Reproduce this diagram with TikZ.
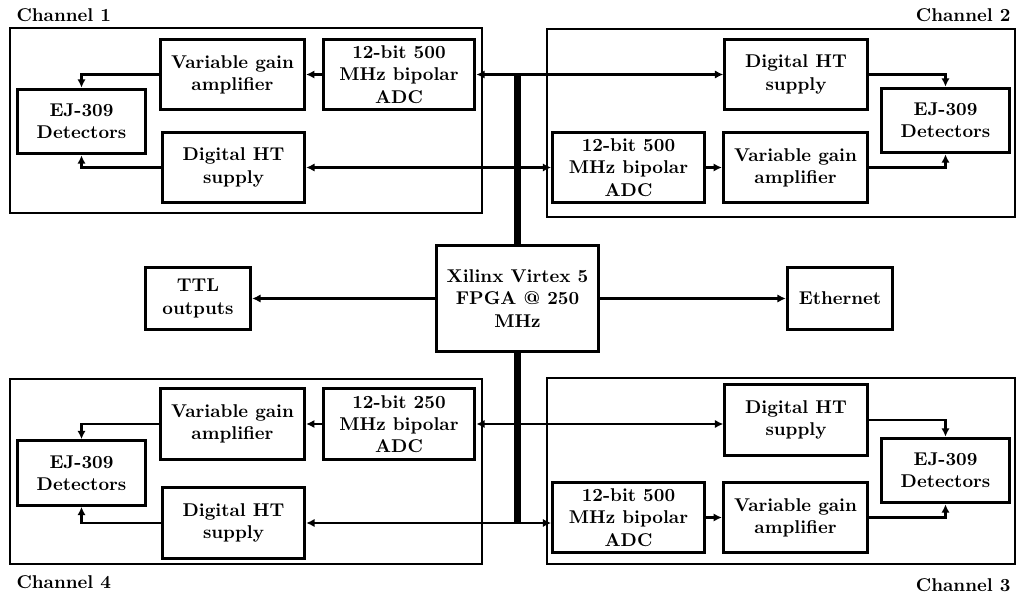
\documentclass[tikz,border=0pt]{standalone}
\usetikzlibrary{arrows.meta}

\begin{document}
\begin{tikzpicture}[
    x=0.019cm, y=-0.019cm,
    blk/.style={draw, line width=1.6pt, align=center, font=\bfseries, inner sep=0pt},
    ampbox/.style={blk, minimum width=78pt, minimum height=38pt},
    adcbox/.style={blk, minimum width=82pt, minimum height=38pt},
    detbox/.style={blk, minimum width=69pt, minimum height=35pt},
    htbox/.style={blk, minimum width=77pt, minimum height=38pt},
    iobox/.style={blk, minimum width=57pt, minimum height=34pt},
    chan/.style={draw, line width=1.6pt},
    chlbl/.style={font=\bfseries},
    lnk/.style={line width=1.2pt, -{Latex[length=4.5pt,width=4.5pt]}},
    duplex/.style={line width=1.2pt, {Latex[length=4.5pt,width=4.5pt]}-{Latex[length=4.5pt,width=4.5pt]}},
    bus/.style={line width=3.8pt},
  ]
  \useasboundingbox (0,0) rectangle (1024,597);

  % channel frames
  \draw[chan] (10,28) rectangle (482,213);
  \draw[chan] (547,29) rectangle (1015,217);
  \draw[chan] (10,379) rectangle (482,564);
  \draw[chan] (547,378) rectangle (1015,564);
  \node[chlbl, anchor=west] (lbl1) at (10,15)  {Channel 1};
  \node[chlbl, anchor=east] (lbl2) at (1017,15) {Channel 2};
  \node[chlbl, anchor=west] (lbl4) at (10,582) {Channel 4};
  \node[chlbl, anchor=east] (lbl3) at (1017,585) {Channel 3};

  % channel 1
  \node[ampbox] (vga1) at (232.5,74.5) {Variable gain\\amplifier};
  \node[adcbox] (adc1) at (399,74.5)   {12-bit 500\\MHz bipolar\\ADC};
  \node[detbox] (det1) at (81.5,121.5) {EJ-309\\Detectors};
  \node[htbox]  (dht1) at (233.5,167.5) {Digital HT\\supply};
  \draw[lnk] (adc1) -- (vga1);
  \draw[lnk] (vga1.west) -| (det1.north);
  \draw[lnk] (dht1.west) -| (det1.south);

  % channel 2
  \node[htbox]  (dht2) at (796,74.5)    {Digital HT\\supply};
  \node[detbox] (det2) at (945.5,120.5) {EJ-309\\Detectors};
  \node[adcbox] (adc2) at (628.5,167.5) {12-bit 500\\MHz bipolar\\ADC};
  \node[ampbox] (vga2) at (795.5,167.5) {Variable gain\\amplifier};
  \draw[lnk] (adc2) -- (vga2);
  \draw[lnk] (dht2.east) -| (det2.north);
  \draw[lnk] (vga2.east) -| (det2.south);

  % centre: FPGA and its outputs
  \node[blk, minimum width=88pt, minimum height=57pt] (fpga) at (517.5,298.5)
    {Xilinx Virtex 5\\FPGA @ 250\\MHz};
  \node[iobox] (ttl) at (198,298.5) {TTL\\outputs};
  \node[iobox] (eth) at (840,298.5) {Ethernet};
  \draw[lnk] (fpga) -- (ttl);
  \draw[lnk] (fpga) -- (eth);

  % channel 4
  \node[ampbox] (vga4) at (232.5,424) {Variable gain\\amplifier};
  \node[adcbox] (adc4) at (399,424)   {12-bit 250\\MHz bipolar\\ADC};
  \node[detbox] (det4) at (81.5,473)  {EJ-309\\Detectors};
  \node[htbox]  (dht4) at (233.5,523) {Digital HT\\supply};
  \draw[lnk] (adc4) -- (vga4);
  \draw[lnk] (vga4.west) -| (det4.north);
  \draw[lnk] (dht4.west) -| (det4.south);

  % channel 3
  \node[htbox]  (dht3) at (796,420)     {Digital HT\\supply};
  \node[detbox] (det3) at (945.5,470.5) {EJ-309\\Detectors};
  \node[adcbox] (adc3) at (628.5,517.5) {12-bit 500\\MHz bipolar\\ADC};
  \node[ampbox] (vga3) at (795.5,517.5) {Variable gain\\amplifier};
  \draw[lnk] (adc3) -- (vga3);
  \draw[lnk] (dht3.east) -| (det3.north);
  \draw[lnk] (vga3.east) -| (det3.south);

  % bus to the FPGA
  \draw[bus] (fpga.north) -- (fpga.north |- adc1.east);
  \draw[bus] (fpga.south) -- (fpga.south |- dht4.east);
  \draw[duplex] (adc1.east) -- (adc1.east -| dht2.west);
  \draw[duplex] (dht1.east) -- (dht1.east -| adc2.west);
  \draw[duplex] (adc4.east) -- (adc4.east -| dht3.west);
  \draw[duplex] (dht4.east) -- (dht4.east -| adc3.west);
\end{tikzpicture}
\end{document}
